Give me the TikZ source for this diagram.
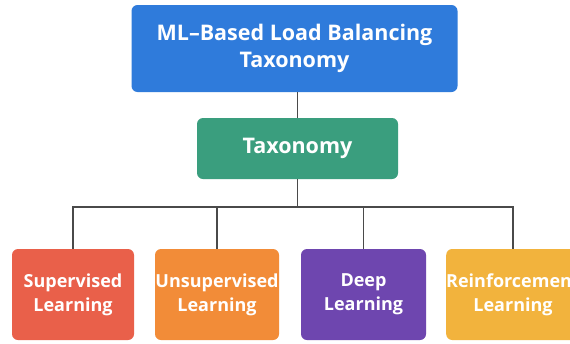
\documentclass[tikz,border=0pt]{standalone}
\usepackage{fontspec}
\setmainfont{Open Sans}
\definecolor{cblue}{HTML}{2F7BDB}
\definecolor{cgreen}{HTML}{3A9E7E}
\definecolor{cred}{HTML}{E9604A}
\definecolor{corange}{HTML}{F28C38}
\definecolor{cpurple}{HTML}{6E46AF}
\definecolor{cyellow}{HTML}{F2B33D}
\definecolor{cline}{HTML}{4A4A4A}
\begin{document}
\begin{tikzpicture}[x=1pt,y=1pt,
  box/.style={rectangle, rounded corners=6pt, draw=none, text=white, align=center,
    font=\bfseries\fontsize{18}{24}\selectfont, inner sep=0pt},
  conn/.style={draw=cline, line width=1.8pt}]
\clip (0,0) rectangle (570,-343);
\fill[white] (0,0) rectangle (570,-343);
\node[box, fill=cblue, minimum width=326pt, minimum height=87pt, font=\bfseries\fontsize{21.5}{27}\selectfont] (top) at (294.5,-48.5) {ML–Based Load Balancing\\Taxonomy};
\node[box, fill=cgreen, minimum width=201pt, minimum height=61pt, font=\bfseries\fontsize{21.5}{27}\selectfont] (tax) at (297.5,-148.5) {Taxonomy};
\node[box, fill=cred, minimum width=122pt, minimum height=91pt] (sup) at (73,-294.5) {Supervised\\Learning};
\node[box, fill=corange, minimum width=124pt, minimum height=91pt] (uns) at (217,-294.5) {Unsupervised\\Learning};
\node[box, fill=cpurple, minimum width=125pt, minimum height=91pt] (deep) at (363.5,-294.5) {Deep\\Learning};
\node[box, fill=cyellow, minimum width=132pt, minimum height=91pt] (rein) at (513,-294.5) {Reinforcement\\Learning};
\coordinate (hy) at (0,-207);
\path[conn] (tax.north |- top.south) -- (tax.north);
\path[conn] (tax.south) -- (tax.south |- hy);
\path[conn] (sup.north) -- (sup.north |- hy) -- (rein.north |- hy) -- (rein.north);
\path[conn] (uns.north) -- (uns.north |- hy);
\path[conn] (deep.north) -- (deep.north |- hy);
\end{tikzpicture}
\end{document}
